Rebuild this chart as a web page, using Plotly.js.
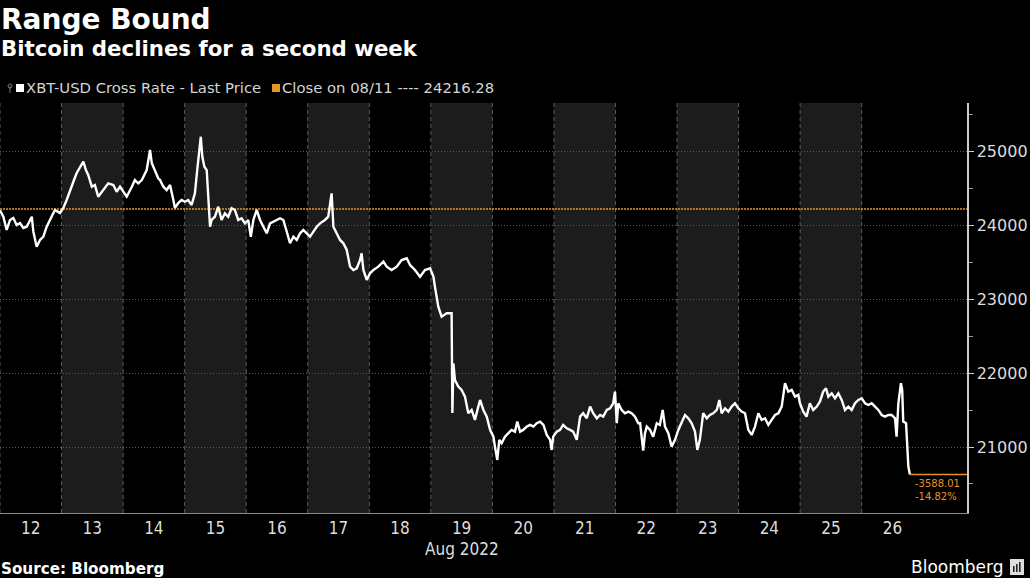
<!DOCTYPE html>
<html>
<head>
<meta charset="utf-8">
<script src="https://cdn.plot.ly/plotly-3.0.1.min.js"></script>
<style>
  html, body { margin: 0; padding: 0; background: #000; }
  #chart { width: 1030px; height: 578px; }
</style>
</head>
<body>
<div id="chart"></div>
<script>
// ---------------- DATA ----------------
const titleText = 'Range Bound';
const subtitleText = 'Bitcoin declines for a second week';
const seriesName = 'XBT-USD Cross Rate - Last Price';
const closeLabelDate = '08/11';
const closeValue = 24216.28;
const sourceText = 'Source: Bloomberg';
const monthLabel = 'Aug 2022';

// start of the time axis: 12 Aug 2022 00:00
const startYear = 2022, startMonth = 7, startDay = 12;

// hours elapsed since 12 Aug 2022 00:00
const hoursSinceStart = [
  0, 1.3, 2.6, 3.9, 5.2, 6.5, 7.8, 9.1, 10.4, 12.4, 13.0, 14.3, 15.6, 16.9, 18.2, 19.5, 21.4, 23.4,
  24.7, 26.0, 27.3, 28.6, 29.9, 31.2, 32.5, 33.5, 34.4, 35.8, 37.0, 38.3, 39.7, 40.9, 42.2, 44.2, 45.5, 46.8,
  48.1, 49.4, 51.4, 52.6, 53.9, 55.3, 57.2, 58.5, 59.2, 60.4, 61.7, 62.4, 63.7, 65.0, 66.3, 67.6, 68.2, 69.5, 70.8,
  72.1, 73.4, 74.7, 76.0, 76.9, 77.7, 78.3, 78.9, 79.7, 80.6, 81.2, 81.9, 82.5, 83.8, 85.1, 86.4, 87.7, 89.0, 90.3, 91.6, 92.9, 94.2, 95.5,
  96.8, 97.8, 98.8, 100.1, 101.4, 102.7, 104.0, 105.3, 106.6, 107.9, 109.2, 110.5, 111.8, 113.1, 114.4, 115.7, 117.0, 118.3, 119.6,
  120.9, 122.2, 123.5, 124.8, 126.7, 128.0, 129.3, 130.0, 131.3, 132.6, 133.9, 135.2, 136.5, 137.8, 139.1, 140.4, 141.0, 141.7, 143.0,
  144.3, 145.6, 147.5, 149.5, 150.8, 152.7, 154.7, 156.6, 158.6, 159.9, 161.8, 163.8, 165.7, 167.7,
  169.0, 169.6, 170.9, 172.2, 174.2, 176.1, 176.4, 176.8, 177.4, 178.7, 180.0, 181.3, 182.6, 183.9, 185.2, 186.5, 187.2, 188.5, 189.8, 191.1,
  192.4, 193.0, 193.9, 194.7, 195.6, 196.9, 198.2, 199.5, 200.8, 201.7, 202.8, 204.0, 205.4, 206.7, 208.0, 209.3, 210.6, 211.9, 213.2, 214.5, 215.1,
  215.7, 217.1, 218.4, 219.6, 221.0, 222.3, 223.5, 224.9, 226.2, 227.4, 228.8, 230.1, 231.3, 232.7, 234.0, 235.2, 236.6, 237.9, 239.1, 239.8,
  240.5, 241.1, 242.4, 243.7, 245.0, 246.3, 247.6, 248.9, 249.6, 250.8, 251.5, 252.2, 253.5, 254.7, 256.1, 257.3, 258.4, 259.3, 260.6, 261.9, 263.2,
  264.5, 265.8, 267.1, 268.4, 269.7, 271.0, 271.9, 272.9, 274.2, 275.6, 276.8, 278.1, 279.5, 280.5, 281.4, 282.7, 284.0, 285.3, 286.6, 287.9,
  289.2, 290.5, 291.8, 293.1, 294.4, 295.7, 297.0, 298.3, 299.6, 300.9, 302.2, 303.5, 304.8, 306.1, 307.4, 308.7, 310.0, 311.3,
  311.9, 313.2, 314.5, 315.8, 317.1, 318.5, 319.7, 321.0, 322.1, 323.0, 324.3, 325.6, 326.9, 328.2, 329.5, 330.8, 332.1, 333.4, 334.7, 336.0,
  337.3, 338.6, 339.9, 341.2, 342.5, 343.8, 345.1, 346.4, 347.7, 349.0, 349.6, 350.3, 350.9, 351.3, 351.8, 352.2, 353.3, 353.8, 354.2, 354.8
];

// XBT-USD last price
const prices = [
  24200, 24112, 23933, 24068, 24095, 24000, 24027, 23960, 23977, 24112, 23910, 23707, 23798, 23842, 23977, 24068, 24203, 24162,
  24230, 24338, 24473, 24585, 24703, 24788, 24856, 24743, 24676, 24518, 24541, 24383, 24450, 24496, 24563, 24541, 24450, 24518,
  24450, 24383, 24518, 24608, 24563, 24608, 24743, 25014, 24834, 24743, 24631, 24608, 24518, 24473, 24541, 24338, 24230, 24297, 24338,
  24315, 24338, 24270, 24428, 24743, 24991, 25193, 24923, 24788, 24743, 24338, 23977, 24068, 24112, 24248, 24068, 24158, 24112, 24226, 24203, 24068, 24091, 24023,
  24068, 23842, 24068, 24203, 24068, 23977, 23888, 24023, 24045, 24068, 24091, 24068, 23910, 23753, 23842, 23798, 23888, 23933, 23888,
  23842, 23910, 23977, 24023, 24068, 24112, 24428, 23977, 23888, 23798, 23753, 23663, 23437, 23392, 23415, 23527, 23617, 23392, 23257,
  23347, 23392, 23437, 23505, 23437, 23392, 23437, 23527, 23550, 23460, 23392, 23302, 23392, 23415,
  23302, 23167, 22897, 22761, 22807, 22807, 21460, 22131, 21906, 21816, 21771, 21681, 21456, 21501, 21366, 21546, 21636, 21501, 21411, 21231,
  21140, 21005, 20825, 21096, 21051, 21140, 21186, 21231, 21208, 21343, 21208, 21231, 21276, 21298, 21276, 21321, 21343, 21298, 21163, 21096, 20960,
  21140, 21208, 21231, 21298, 21253, 21231, 21208, 21096, 21411, 21456, 21388, 21546, 21456, 21388, 21433, 21411, 21501, 21523, 21591, 21749,
  21321, 21591, 21501, 21456, 21478, 21456, 21411, 21321, 21321, 20950, 21186, 21276, 21231, 21140, 21321, 21298, 21501, 21276, 21186, 21005, 21096,
  21231, 21343, 21433, 21388, 21321, 21208, 20960, 21096, 21456, 21388, 21433, 21456, 21501, 21636, 21456, 21523, 21478, 21546, 21591, 21523,
  21478, 21456, 21231, 21163, 21276, 21456, 21366, 21388, 21298, 21366, 21433, 21456, 21546, 21862, 21749, 21771, 21681, 21704,
  21591, 21478, 21411, 21591, 21501, 21546, 21613, 21749, 21794, 21681, 21726, 21659, 21726, 21636, 21501, 21546, 21501, 21591, 21636, 21659,
  21591, 21568, 21591, 21546, 21501, 21433, 21411, 21433, 21433, 21388, 21140, 21591, 21771, 21862, 21771, 21343, 21321, 20870, 20735, 20628.27
];

// day-of-month tick labels along the time axis
const dayLabels = [12, 13, 14, 15, 16, 17, 18, 19, 20, 21, 22, 23, 24, 25, 26];
// price axis ticks
const priceTicks = [21000, 22000, 23000, 24000, 25000];

// ---------------- BUILD ----------------
const HOUR = 3600000;
const t0 = Date.UTC(startYear, startMonth, startDay);
const xTimes = hoursSinceStart.map(h => t0 + h * HOUR);

const lastTime = xTimes[xTimes.length - 1];
const lastValue = prices[prices.length - 1];
const change = lastValue - closeValue;
const changePct = change / closeValue * 100;

const xRange = [t0, Date.UTC(startYear, startMonth, 27, 17, 4)];
const yRange = [20108, 25649];

const orange = '#e8922a';
const dayStart = d => Date.UTC(startYear, startMonth, d);
const dayNoon = d => Date.UTC(startYear, startMonth, d, 12);

const shapes = [];
// alternate day shading (odd days)
dayLabels.filter(d => d % 2 === 1).forEach(d => {
  shapes.push({type: 'rect', xref: 'x', yref: 'paper', x0: dayStart(d), x1: dayStart(d + 1), y0: 0, y1: 1,
    fillcolor: '#1c1c1c', line: {width: 0}, layer: 'below'});
});
// dashed day-boundary lines
dayLabels.forEach(d => {
  shapes.push({type: 'line', xref: 'x', yref: 'paper', x0: dayStart(d), x1: dayStart(d), y0: 0, y1: 1,
    line: {color: '#5a5a5a', width: 1, dash: '4px,3px'}, layer: 'below'});
});
// close reference line
shapes.push({type: 'line', xref: 'paper', yref: 'y', x0: 0, x1: 1, y0: closeValue, y1: closeValue,
  line: {color: orange, width: 1.5, dash: '2px,1px'}, layer: 'below'});
// legend squares
shapes.push({type: 'rect', xref: 'paper', yref: 'paper', x0: 16/967, x1: 24/967, y0: (513-92)/410, y1: (513-84)/410,
  fillcolor: '#ffffff', line: {width: 0}});
shapes.push({type: 'rect', xref: 'paper', yref: 'paper', x0: 272/967, x1: 280/967, y0: (513-92)/410, y1: (513-84)/410,
  fillcolor: orange, line: {width: 0}});
// small pin icon before legend
shapes.push({type: 'line', xref: 'paper', yref: 'paper', x0: 10/967, x1: 10/967, y0: (513-93)/410, y1: (513-86)/410,
  line: {color: '#777', width: 1}});
shapes.push({type: 'circle', xref: 'paper', yref: 'paper', x0: 8/967, x1: 12/967, y0: (513-88)/410, y1: (513-84)/410,
  line: {color: '#777', width: 1}});
// Bloomberg logo box
shapes.push({type: 'rect', xref: 'paper', yref: 'paper', x0: 1010/967, x1: 1024/967, y0: (513-575)/410, y1: (513-559)/410,
  fillcolor: '#dddddd', line: {width: 0}});
[1013, 1016, 1019].forEach((px, i) => {
  shapes.push({type: 'rect', xref: 'paper', yref: 'paper', x0: px/967, x1: (px + 1.6)/967,
    y0: (513-572)/410, y1: (513-(566 - i*2))/410, fillcolor: '#222', line: {width: 0}});
});

const annotations = [
  {text: '<b>' + titleText + '</b>', xref: 'paper', yref: 'paper', x: -0.001, y: (513-19)/410, xanchor: 'left', yanchor: 'middle',
    showarrow: false, font: {family: 'DejaVu Sans', size: 28, color: '#ffffff'}},
  {text: '<b>' + subtitleText + '</b>', xref: 'paper', yref: 'paper', x: -0.001, y: (513-48)/410, xanchor: 'left', yanchor: 'middle',
    showarrow: false, font: {family: 'DejaVu Sans', size: 21.3, color: '#ffffff'}},
  {text: seriesName, xref: 'paper', yref: 'paper', x: 24/967, y: (513-88)/410, xanchor: 'left', yanchor: 'middle',
    showarrow: false, font: {family: 'DejaVu Sans', size: 14.8, color: '#d4d4d4'}},
  {text: 'Close on ' + closeLabelDate + ' ---- ' + closeValue.toFixed(2), xref: 'paper', yref: 'paper', x: 280/967, y: (513-88)/410,
    xanchor: 'left', yanchor: 'middle', showarrow: false, font: {family: 'DejaVu Sans', size: 14.8, color: '#d4d4d4'}},
  {text: monthLabel, xref: 'x', yref: 'paper', x: dayNoon(19), y: (513-549)/410, xanchor: 'center', yanchor: 'middle',
    showarrow: false, font: {family: 'Liberation Sans Narrow, DejaVu Sans Condensed, DejaVu Sans', size: 17, color: '#dddddd'}},
  {text: '<b>' + sourceText + '</b>', xref: 'paper', yref: 'paper', x: -0.001, y: (513-569)/410, xanchor: 'left', yanchor: 'middle',
    showarrow: false, font: {family: 'DejaVu Sans', size: 15.2, color: '#ffffff'}},
  {text: 'Bloomberg', xref: 'paper', yref: 'paper', x: 1005/967, y: (513-567)/410, xanchor: 'right', yanchor: 'middle',
    showarrow: false, font: {family: 'DejaVu Sans', size: 17, color: '#ffffff'}},
  {text: change.toFixed(2), xref: 'x', yref: 'y', x: lastTime, y: lastValue, xanchor: 'left', yanchor: 'middle',
    xshift: 3, yshift: -9, showarrow: false, font: {family: 'DejaVu Sans', size: 10, color: orange}},
  {text: changePct.toFixed(2) + '%', xref: 'x', yref: 'y', x: lastTime, y: lastValue, xanchor: 'left', yanchor: 'middle',
    xshift: 3, yshift: -22, showarrow: false, font: {family: 'DejaVu Sans', size: 10, color: orange}}
];

const traces = [
  {type: 'scatter', mode: 'lines', x: xTimes, y: prices, line: {color: '#ffffff', width: 2.4}, hoverinfo: 'skip'},
  {type: 'scatter', mode: 'lines', x: [lastTime, xRange[1]], y: [lastValue, lastValue], line: {color: orange, width: 1.5}, hoverinfo: 'skip'}
];

const layout = {
  width: 1030, height: 578,
  paper_bgcolor: '#000000', plot_bgcolor: '#000000',
  margin: {l: 0, r: 63, t: 103, b: 65, pad: 0},
  showlegend: false,
  xaxis: {
    type: 'date', range: xRange,
    tickmode: 'array', tickvals: dayLabels.map(dayNoon), ticktext: dayLabels.map(String),
    ticks: '', showgrid: false, zeroline: false,
    showline: true, linecolor: '#8a8a8a', linewidth: 1,
    tickfont: {family: 'Liberation Sans Narrow, DejaVu Sans Condensed, DejaVu Sans', size: 17, color: '#dddddd'},
    fixedrange: true
  },
  yaxis: {
    side: 'right', range: yRange,
    tickmode: 'array', tickvals: priceTicks, tickformat: 'd',
    ticks: 'outside', ticklen: 5, tickcolor: '#cccccc', tickwidth: 1,
    showline: true, linecolor: '#cccccc', linewidth: 1.5,
    showgrid: true, gridcolor: '#5a5a5a', griddash: '1px,2px', gridwidth: 1,
    zeroline: false,
    minor: {tickmode: 'linear', tick0: 20500, dtick: 1000, ticks: 'outside', ticklen: 4, tickcolor: '#999999', showgrid: false},
    tickfont: {family: 'DejaVu Sans', size: 16, color: '#dddddd'},
    fixedrange: true
  },
  shapes: shapes,
  annotations: annotations
};

Plotly.newPlot('chart', traces, layout, {displayModeBar: false, staticPlot: true});
</script>
</body>
</html>
